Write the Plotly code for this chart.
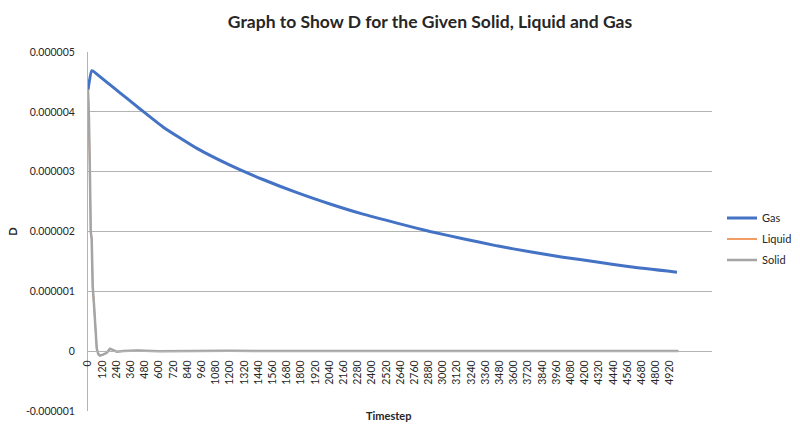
import plotly.graph_objects as go

# ---- data (D values in units of 1e-6) ----
gas_t = [0, 31, 45, 101, 214, 327, 440, 634, 921, 1200, 1479, 1767, 2046,
         2325, 2612, 2891, 3170, 3457, 3736, 4015, 4303, 4582, 4979]
gas_D = [4.37, 4.69, 4.68, 4.59, 4.41, 4.23, 4.05, 3.75, 3.39, 3.11, 2.87, 2.65,
         2.46, 2.29, 2.14, 2.00, 1.88, 1.76, 1.66, 1.57, 1.49, 1.41, 1.32]

solid_t = [0, 8, 17, 23, 31, 40, 50, 59, 74, 87, 101, 127, 158, 186, 215, 243,
           300, 420, 600, 840, 1200, 1600, 2000, 2400, 2800, 3200, 3600, 4000,
           4400, 4800, 4990]
solid_D = [4.37, 3.90, 2.88, 2.00, 1.88, 1.07, 0.80, 0.51, 0.04, -0.05, -0.075,
           -0.06, -0.03, 0.04, 0.01, -0.01, 0.0, 0.01, -0.005, 0.0, 0.005, 0.0,
           0.0, 0.0, 0.0, 0.0, 0.0, 0.0, 0.0, 0.0, 0.0]

liquid_t = list(solid_t)
liquid_D = list(solid_D)

x_ticks = list(range(0, 4921, 120))
x_ticktext = [str(v) for v in x_ticks]
y_ticks = [-1e-6, 0, 1e-6, 2e-6, 3e-6, 4e-6, 5e-6]
y_ticktext = ["-0.000001", "0", "0.000001", "0.000002", "0.000003", "0.000004", "0.000005"]

SCALE = 1e-6
FONT = "Lato"
TXT = "#262626"
GRID = "#b3b3b3"

fig = go.Figure()
fig.add_trace(go.Scatter(
    x=gas_t, y=[v * SCALE for v in gas_D], mode="lines", name="Gas",
    legendgroup="g", line=dict(color="#4472C4", width=3, shape="spline", smoothing=0.5)))
fig.add_trace(go.Scatter(
    x=liquid_t, y=[v * SCALE for v in liquid_D], mode="lines", name="Liquid",
    legendgroup="l", line=dict(color="#ED7D31", width=1.5)))
fig.add_trace(go.Scatter(
    x=solid_t, y=[v * SCALE for v in solid_D], mode="lines", name="Solid",
    legendgroup="s", line=dict(color="#A5A5A5", width=2.5)))

fig.update_layout(
    width=800, height=440,
    margin=dict(l=88, r=88, t=52, b=29, autoexpand=False),
    paper_bgcolor="white", plot_bgcolor="white",
    title=dict(text="<b>Graph to Show D for the Given Solid, Liquid and Gas</b>",
               x=430 / 800, xanchor="center", y=1 - 22 / 440, yanchor="middle",
               font=dict(family=FONT, size=17.5, color=TXT)),
    xaxis=dict(range=[0, 5275], tickmode="array", tickvals=x_ticks, ticktext=x_ticktext,
               tickangle=-90, showgrid=False, zeroline=False, showline=True,
               linecolor=GRID, linewidth=1, ticks="", anchor="free", position=1 / 6,
               ticklabelstandoff=4,
               tickfont=dict(family=FONT, size=10.5, color=TXT)),
    yaxis=dict(range=[-1.003e-6, 5.003e-6], tickmode="array", tickvals=y_ticks,
               ticktext=y_ticktext, showgrid=True, gridcolor=GRID, gridwidth=1,
               zeroline=False, showline=True, linecolor=GRID, linewidth=1, ticks="",
               ticklabelstandoff=10,
               tickfont=dict(family=FONT, size=10.5, color=TXT),
               title=dict(text="<b>D</b>", standoff=6,
                          font=dict(family=FONT, size=11, color=TXT))),
    legend=dict(x=(722 - 88) / 624, xanchor="left", y=0.479, yanchor="middle",
                font=dict(family=FONT, size=11, color=TXT), tracegroupgap=2,
                itemwidth=30, bgcolor="rgba(0,0,0,0)"),
    annotations=[dict(text="<b>Timestep</b>", xref="paper", yref="paper",
                      x=(388 - 88) / 624, y=(411 - 415) / 359, xanchor="center",
                      yanchor="middle", showarrow=False,
                      font=dict(family=FONT, size=11, color=TXT))],
)

fig.write_html("out.html")
